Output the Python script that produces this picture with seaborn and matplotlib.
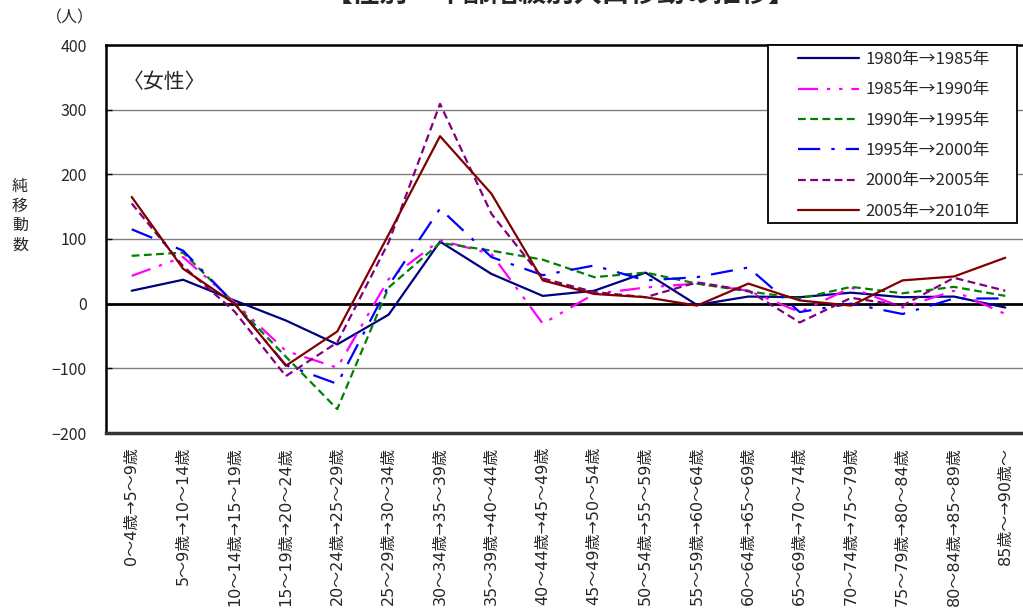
import numpy as np
import pandas as pd
import matplotlib
matplotlib.use('Agg')
import matplotlib.pyplot as plt
import matplotlib.patches as mpatches
import seaborn as sns

# 年齢階級（移動前→移動後）
age_labels = ['0～4歳→5～9歳', '5～9歳→10～14歳', '10～14歳→15～19歳', '15～19歳→20～24歳',
              '20～24歳→25～29歳', '25～29歳→30～34歳', '30～34歳→35～39歳', '35～39歳→40～44歳',
              '40～44歳→45～49歳', '45～49歳→50～54歳', '50～54歳→55～59歳', '55～59歳→60～64歳',
              '60～64歳→65～69歳', '65～69歳→70～74歳', '70～74歳→75～79歳', '75～79歳→80～84歳',
              '80～84歳→85～89歳', '85歳～→90歳～']

# 期間別の純移動数（女性）
s1980_1985 = [20, 37, 5, -26, -63, -17, 96, 46, 12, 20, 48, -2, 11, 10, 17, 10, 11, -6]
s1985_1990 = [43, 72, 2, -73, -99, 38, 98, 77, -31, 15, 25, 31, 20, -13, 25, -6, 20, -16]
s1990_1995 = [74, 79, 0, -82, -163, 25, 94, 82, 68, 41, 48, 31, 19, 8, 26, 16, 26, 12]
s1995_2000 = [115, 82, 0, -95, -124, 28, 147, 72, 44, 59, 36, 41, 56, -13, 0, -16, 8, 8]
s2000_2005 = [155, 58, -12, -112, -60, 95, 309, 139, 39, 18, 10, 33, 20, -29, 9, -3, 40, 20]
s2005_2010 = [165, 54, 0, -96, -43, 107, 259, 170, 36, 15, 10, -3, 31, 5, -3, 36, 42, 71]

series_names = ['1980年→1985年', '1985年→1990年', '1990年→1995年',
                '1995年→2000年', '2000年→2005年', '2005年→2010年']
series_vals = [s1980_1985, s1985_1990, s1990_1995, s1995_2000, s2000_2005, s2005_2010]
colors = ['#000080', '#FF00FF', '#008000', '#0000FF', '#800080', '#800000']
styles = ['-', (0, (9, 4, 1.5, 4, 1.5, 4)), (0, (3.5, 2)), (0, (10, 5, 1.5, 5)), (0, (3.5, 2)), '-']

sns.set_theme(style='white')
plt.rcParams['font.family'] = ['Noto Sans CJK JP', 'DejaVu Sans']

fig = plt.figure(figsize=(10.23, 6.14), dpi=100)
ax = fig.add_axes([106 / 1023, 1 - 433 / 614, 925 / 1023, 388 / 614])

x = np.arange(len(age_labels))
for name, vals, c, ls in zip(series_names, series_vals, colors, styles):
    sns.lineplot(x=x, y=vals, ax=ax, color=c, linestyle=ls, linewidth=1.6, label=name)

# 目盛線
for yv in [100, 200, 300, -100]:
    ax.axhline(yv, color='#808080', linewidth=1, zorder=0)
ax.axhline(0, color='black', linewidth=2, zorder=1)

ax.set_xlim(-0.5, 17.5)
ax.set_ylim(-200, 400)
ax.set_yticks([-200, -100, 0, 100, 200, 300, 400])
ax.set_yticklabels(['−200', '−100', '0', '100', '200', '300', '400'], fontsize=11.5)
ax.set_xticks(x)
ax.set_xticklabels(age_labels, rotation=90, va='top', ha='center')
for lbl in ax.get_xticklabels():
    lbl.set_fontfamily(['DejaVu Sans', 'Noto Sans CJK JP'])
    lbl.set_fontsize(11.5)
ax.tick_params(axis='x', length=0, pad=10)
ax.tick_params(axis='y', direction='in', length=4, width=1, color='black', pad=14, left=True)
ax.set_xlabel('')
ax.set_ylabel('')

for sp in ['left', 'top', 'bottom']:
    ax.spines[sp].set_color('black')
    ax.spines[sp].set_linewidth(1.8)
ax.spines['bottom'].set_color('#333333')
ax.spines['bottom'].set_linewidth(2.5)
ax.spines['right'].set_visible(False)

# 凡例（枠は別に描く）
leg = ax.legend(loc='upper right', bbox_to_anchor=(990 / 1023, 1 - 51 / 614),
                bbox_transform=fig.transFigure, fontsize=12, frameon=False,
                handlelength=3.7, handletextpad=0.36,
                labelspacing=0.8, borderpad=0, borderaxespad=0)
leg.set_zorder(6)
box = mpatches.Rectangle((768 / 1023, 1 - 223 / 614), 249 / 1023, 178 / 614,
                         transform=fig.transFigure, facecolor='white',
                         edgecolor='black', linewidth=1.3, zorder=5, clip_on=False)
ax.add_patch(box)

ax.text(0.018, 0.905, '〈女性〉', transform=ax.transAxes, fontsize=15, va='center', ha='left')

fig.text(70 / 1023, 1 - 18 / 614, '（人）', fontsize=11.5, ha='center', va='center')
fig.text(20 / 1023, 1 - 216 / 614, '純\n移\n動\n数', fontsize=11.5, ha='center', va='center',
         linespacing=1.2)
fig.text(561 / 1023, 1 + 6 / 614, '【性別・年齢階級別人口移動の推移】', fontsize=20,
         fontweight='bold', ha='center', va='center')

fig.savefig('out.png', dpi=100)
